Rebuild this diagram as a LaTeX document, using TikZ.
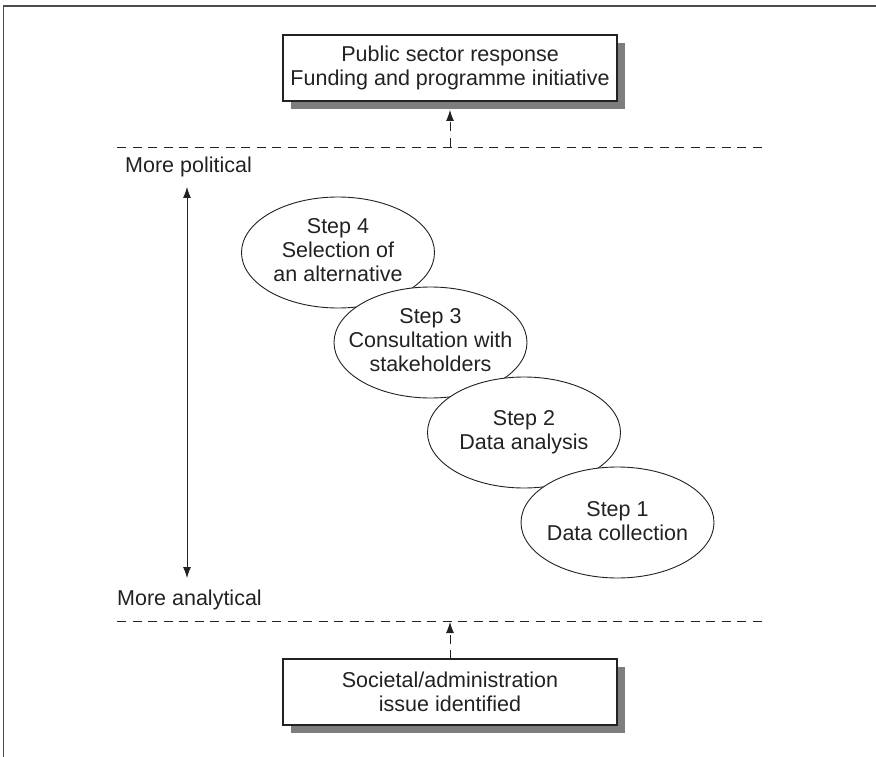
\documentclass[tikz,border=0pt]{standalone}
\usepackage{fontspec}
\setmainfont{Liberation Sans}
\usetikzlibrary{shapes.geometric,arrows.meta,shadows}
\definecolor{ink}{HTML}{222222}
\definecolor{shade}{HTML}{7E7E7E}
\begin{document}
\begin{tikzpicture}[x=1pt,y=-1pt,
  every node/.style={text=ink,font=\fontsize{21.5}{24}\selectfont},
  framebox/.style={draw=ink,line width=1.1pt,fill=white,minimum width=334pt,minimum height=66pt,inner sep=0pt,align=center,
     drop shadow={shadow xshift=8pt,shadow yshift=-8pt,fill=shade,opacity=1}},
  stepell/.style={ellipse,draw=ink,line width=0.9pt,fill=white,minimum width=193pt,minimum height=111pt,inner sep=0pt},
  steptext/.style={align=center,inner sep=0pt},
  sep/.style={draw=ink,line width=0.8pt,dash pattern=on 9pt off 6.5pt},
  uparrow/.style={draw=ink,line width=0.8pt,dash pattern=on 9pt off 6.5pt,-{Latex[length=11pt,width=8pt]}},
  dbl/.style={draw=ink,line width=0.8pt,{Latex[length=11pt,width=8pt]}-{Latex[length=11pt,width=8pt]}}]
\useasboundingbox (0,0) rectangle (876,757);
% frame
\coordinate (fbl) at (3.5,757);
\coordinate (ftl) at (3.5,6);
\coordinate (ftr) at (876,6);
\draw[gray!60!black,line width=1.3pt] (fbl) -- (ftl) -- (ftr);
% boxes
\node[framebox] (top) at (450,68) {Public sector response\\Funding and programme initiative};
\node[framebox] (bot) at (450,692) {Societal/administration\\issue identified};
% dashed separators
\coordinate (d1l) at (117,147); \coordinate (d1r) at (766,147);
\coordinate (d2l) at (117,621); \coordinate (d2r) at (766,621);
\path[sep] (d1l) -- (d1r);
\path[sep] (d2l) -- (d2r);
\coordinate (a1s) at (450,147); \coordinate (a1e) at (450,110);
\coordinate (a2s) at (450,659); \coordinate (a2e) at (450,622);
\path[uparrow] (a1s) -- (a1e);
\path[uparrow] (a2s) -- (a2e);
% labels
\node[anchor=base west,inner sep=0pt] (pol) at (125,173) {More political};
\node[anchor=base west,inner sep=0pt] (ana) at (117,605) {More analytical};
\coordinate (vt) at (187,187); \coordinate (vb) at (187,578);
\path[dbl] (vt) -- (vb);
% steps
\node[stepell] (s4) at (338,252.5) {};
\node[steptext] (t4) at (338,250) {Step 4\\Selection of\\an alternative};
\node[stepell] (s3) at (430.5,342.5) {};
\node[steptext] (t3) at (430.5,340) {Step 3\\Consultation with\\stakeholders};
\node[stepell] (s2) at (524,432.5) {};
\node[steptext] (t2) at (524,432) {Step 2\\Data analysis};
\node[stepell] (s1) at (617.5,522.5) {};
\node[steptext] (t1) at (617.5,521) {Step 1\\Data collection};
\end{tikzpicture}
\end{document}
